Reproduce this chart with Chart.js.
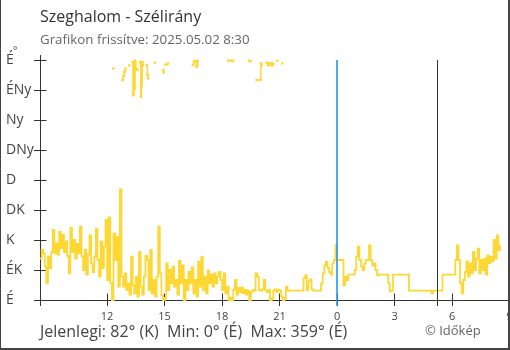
<!DOCTYPE html>
<html>
<head>
<meta charset="utf-8">
<script src="https://cdn.jsdelivr.net/npm/chart.js@4.4.1/dist/chart.umd.min.js"></script>
<style>
html,body{margin:0;padding:0;background:#fff;overflow:hidden;width:510px;height:350px;}
#wrap{position:relative;width:510px;height:350px;overflow:hidden;font-family:"Open Sans",sans-serif;}
#c{position:absolute;left:0;top:0;}
.t{position:absolute;white-space:nowrap;line-height:normal;}
#title{left:40px;top:5px;font-size:16px;color:#333;}
#sub{left:40px;top:30px;font-size:13.3px;color:#666;}
#deg{left:13px;top:43px;font-size:10px;color:#444;}
#stats{left:40px;top:320px;font-size:16px;color:#444;}
#copy{left:425px;top:321px;font-size:13px;color:#666;}
#frame{position:absolute;left:0;top:0;width:510px;height:350px;box-sizing:border-box;border-left:1px solid #444;border-right:2px solid #444;border-bottom:2px solid #444;pointer-events:none;}
</style>
</head>
<body>
<div id="wrap">
  <canvas id="c" width="540" height="350"></canvas>
  <div class="t" id="title">Szeghalom - Szélirány</div>
  <div class="t" id="sub">Grafikon frissítve: 2025.05.02 8:30</div>
  <div class="t" id="deg">°</div>
  <div class="t" id="stats">Jelenlegi: 82° (K)&nbsp; Min: 0° (É)&nbsp; Max: 359° (É)</div>
  <div class="t" id="copy">© Időkép</div>
  <div id="frame"></div>
</div>
<script>
// Time axis: hours since midnight of the first day (24 = next midnight)
const startHour = 8.5;
const stepMinutes = 5;
const axisMin = 8.5;
const axisMax = 33;
const tickHours = [12, 15, 18, 21, 24, 27, 30, 33];
const midnightHour = 24;
const sunriseHour = 29.22;

// Compass labels for 0..360 in 45° steps
const directionLabels = ['É', 'ÉK', 'K', 'DK', 'D', 'DNy', 'Ny', 'ÉNy', 'É'];

// Wind direction (degrees), one reading every 5 minutes from 8:30
const windDir = [
  62,75,70,50,25,65,48,72,105,70,85,68,102,78,98,72,88,66,40,108,72,90,62,84,70,110,65,45,75,38,68,97,55,42,65,107,60,35,88,48,80,120,
  30,124,25,0,100,60,95,20,166,35,20,40,15,25,8,65,22,10,35,5,72,20,8,35,66,60,15,75,10,30,5,35,110,40,
  7,0,3,55,15,45,25,50,20,30,8,59,25,52,0,30,15,42,25,49,10,30,5,57,20,65,15,35,10,44,25,38,20,40,25,35,42,
  30,15,40,10,20,0,3,0,15,30,8,18,12,19,10,15,8,14,0,12,15,14,40,35,15,14,16,30,14,12,15,0,2,14,16,12,15,14,5,0,3,20,
  14,14,14,14,14,14,14,14,14,14,
  33,37,15,28,31,16,14,14,14,14,14,
  25,40,52,57,48,42,38,55,60,82,60,60,60,60,22,35,30,
  38,38,38,38,
  45,65,80,60,50,45,55,60,60,82,60,52,55,45,37,
  38,38,38,38,38,38,
  25,13,14,
  38,38,38,38,38,38,38,38,38,38,
  14,14,14,14,14,14,14,14,14,14,14,14,14,14,10,14,14,14,14,14,14,
  38,38,38,38,38,38,38,38,
  60,82,60,25,10,30,42,58,35,55,40,72,45,62,77,40,60,45,62,38,67,55,65,58,90,62,97,75,82
];

// Readings that swung past north (near 360°), [hour, degrees]; null breaks the line
const northReadings = [
  [12.32,347],[12.40,null],
  [12.80,330],[12.85,336],[12.90,342],[12.96,347],[13.02,null],
  [13.16,352],[13.22,null],
  [13.33,357],[13.35,307],[13.40,355],[13.44,317],[13.46,359],[13.50,347],[13.58,345],[13.63,null],
  [13.72,357],[13.76,305],[13.79,321],[13.83,357],[13.86,352],[13.95,null],
  [14.07,352],[14.10,338],[14.14,332],[14.18,null],
  [14.50,356],[14.56,null],
  [14.93,345],[14.95,341],[14.98,null],
  [15.02,353],[15.17,355],[15.22,null],
  [16.47,353],[16.53,358],[16.62,358],[16.66,350],[16.72,359],[16.80,null],
  [18.32,359],[18.45,359],[18.58,359],[18.62,null],
  [19.42,359],[19.49,358],[19.55,null],
  [19.80,330],[20.00,330],[20.02,355],[20.07,352],[20.12,null],
  [20.33,356],[20.40,352],[20.50,355],[20.60,352],[20.67,355],[20.75,null],
  [20.88,359],[20.95,null],
  [21.14,355]
];

const lineColor = '#fdd835';
const axisColor = '#333';
const midnightColor = 'rgb(33, 150, 243)';

function alignPx(p, w) {
  const h = w / 2;
  return Math.round(p - h) + h;
}

// Inner tick stubs and axis overhangs, drawn behind the data
const axisDecor = {
  id: 'axisDecor',
  beforeDatasetsDraw(chart) {
    const { ctx, chartArea: a, scales: { x, y } } = chart;
    ctx.save();
    ctx.lineWidth = 1;
    ctx.strokeStyle = axisColor;
    const ax = alignPx(a.left, 1);
    const by = alignPx(a.bottom, 1);
    ctx.beginPath();
    ctx.moveTo(ax, a.top - 5); ctx.lineTo(ax, a.top);
    ctx.moveTo(ax, a.bottom); ctx.lineTo(ax, a.bottom + 6);
    y.ticks.forEach(t => {
      const py = alignPx(y.getPixelForValue(t.value), 1);
      ctx.moveTo(ax, py); ctx.lineTo(ax + 6, py);
    });
    tickHours.forEach(h => {
      const px = alignPx(x.getPixelForValue(h), 1);
      ctx.moveTo(px, by); ctx.lineTo(px, by - 7);
    });
    ctx.stroke();
    ctx.restore();
  },
  // Vertical markers for sunrise and midnight
  afterDraw(chart) {
    const { ctx, chartArea: a, scales: { x } } = chart;
    ctx.save();
    ctx.lineWidth = 1;
    ctx.strokeStyle = axisColor;
    const sx = alignPx(x.getPixelForValue(sunriseHour), 1);
    ctx.beginPath();
    ctx.moveTo(sx, a.top); ctx.lineTo(sx, a.bottom + 6);
    ctx.stroke();
    ctx.restore();

    ctx.save();
    ctx.lineWidth = 1.6;
    ctx.strokeStyle = midnightColor;
    const mx = Math.round(x.getPixelForValue(midnightHour));
    ctx.beginPath();
    ctx.moveTo(mx, a.top); ctx.lineTo(mx, a.bottom + 6);
    ctx.stroke();
    ctx.restore();
  }
};

new Chart(document.getElementById('c'), {
  type: 'line',
  data: {
    datasets: [
      {
        data: windDir.map((v, i) => ({ x: startHour + i * stepMinutes / 60, y: v })),
        borderColor: lineColor,
        borderWidth: 1.8,
        pointRadius: 0,
        stepped: true,
        clip: 3
      },
      {
        data: northReadings.map(([t, v]) => ({ x: t, y: v })),
        borderColor: lineColor,
        borderWidth: 1.5,
        pointRadius: 1.7,
        pointStyle: 'rect',
        pointBackgroundColor: lineColor,
        pointBorderWidth: 0,
        stepped: true,
        clip: 3
      }
    ]
  },
  options: {
    responsive: false,
    animation: false,
    events: [],
    layout: { padding: { left: 6, top: 60, right: 30.4, bottom: 20 } },
    plugins: { legend: { display: false }, tooltip: { enabled: false } },
    scales: {
      x: {
        type: 'linear',
        min: axisMin,
        max: axisMax,
        afterBuildTicks: s => { s.ticks = tickHours.map(v => ({ value: v })); },
        afterFit: s => { s.height = 30; },
        grid: { drawOnChartArea: false, tickLength: 6, color: axisColor, tickColor: axisColor },
        border: { display: true, color: axisColor, width: 1 },
        ticks: {
          autoSkip: false,
          maxRotation: 0,
          padding: 4,
          color: '#444',
          font: { family: 'Open Sans', size: 11 },
          callback: v => String(v % 24)
        }
      },
      y: {
        min: 0,
        max: 360,
        afterFit: s => { s.width = 34; },
        grid: { drawOnChartArea: false, tickLength: 6, color: axisColor, tickColor: axisColor },
        border: { display: true, color: axisColor, width: 1 },
        ticks: {
          stepSize: 45,
          crossAlign: 'far',
          padding: 0,
          color: '#444',
          font: { family: 'Open Sans', size: 14 },
          callback: v => directionLabels[Math.round(v / 45)]
        }
      }
    }
  },
  plugins: [axisDecor]
});
</script>
</body>
</html>
